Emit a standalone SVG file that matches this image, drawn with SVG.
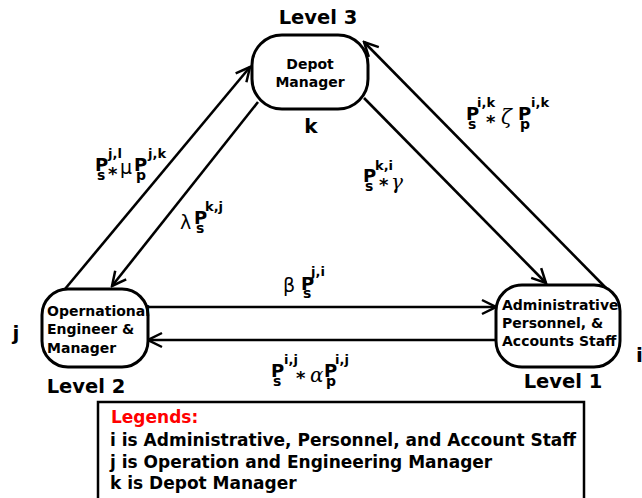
<svg xmlns="http://www.w3.org/2000/svg" width="642" height="498" viewBox="0 0 642 498">
<defs>
<marker id="arr" markerUnits="userSpaceOnUse" markerWidth="18" markerHeight="18" viewBox="-2 -2 18 18" refX="14" refY="7" orient="auto">
<path d="M0,0 L14,7 L0,14" fill="none" stroke="#000" stroke-width="2.5"/>
</marker>
</defs>
<style>
text{font-family:"DejaVu Sans","Liberation Sans",sans-serif;font-weight:bold;fill:#000}
.node{fill:#fff;stroke:#000;stroke-width:3}
.edge{stroke:#000;stroke-width:2.6;fill:none;marker-end:url(#arr)}
.lvl{font-size:19.5px}
.nt{font-size:14px}
.P{font-size:18px}
.sb{font-size:14px}
.sp{font-size:13px}
.g{font-family:"DejaVu Sans",sans-serif;font-weight:normal;font-size:19px}
.gs{font-family:"DejaVu Serif",serif;font-style:italic;font-weight:normal;font-size:20px}
.leg{font-size:17px}
</style>
<rect width="642" height="498" fill="#fff"/>
<g id="connectors">
<line class="edge" x1="65" y1="289" x2="250" y2="67"/>
<line class="edge" x1="258" y1="102" x2="112" y2="286"/>
<line class="edge" x1="606" y1="288" x2="364" y2="42"/>
<line class="edge" x1="364" y1="98" x2="546" y2="283"/>
<line class="edge" x1="148" y1="307" x2="496" y2="307"/>
<line class="edge" x1="496" y1="340" x2="148" y2="340"/>
</g>
<g id="depot">
<rect class="node" x="252" y="35" width="116" height="74" rx="30"/>
<text class="nt" x="310" y="69" text-anchor="middle">Depot</text>
<text class="nt" x="310" y="87" text-anchor="middle">Manager</text>
<text class="lvl" x="318" y="24" text-anchor="middle">Level 3</text>
<text x="311" y="133" font-size="20" text-anchor="middle">k</text>
</g>
<g id="operational">
<rect class="node" x="42" y="289" width="106" height="78" rx="26"/>
<text class="nt" x="47" y="316">Opernational</text>
<text class="nt" x="47" y="334">Engineer &amp;</text>
<text class="nt" x="47" y="353">Manager</text>
<text class="lvl" x="86" y="393" text-anchor="middle">Level 2</text>
<text x="16" y="340" font-size="20" text-anchor="middle">j</text>
</g>
<g id="admin">
<rect class="node" x="496" y="285" width="124" height="82" rx="26"/>
<text class="nt" x="502" y="310">Administrative</text>
<text class="nt" x="502" y="328">Personnel, &amp;</text>
<text class="nt" x="502" y="346">Accounts Staff</text>
<text class="lvl" x="563" y="388" text-anchor="middle">Level 1</text>
<text x="636" y="362" font-size="20">i</text>
</g>
<g id="labels">
<text class="P" x="95" y="171">P</text><text class="sb" x="97" y="180">s</text><text class="sp" x="108" y="158">j,l</text>
<text class="P" x="108" y="180">*</text><text class="g" x="120" y="174">μ</text>
<text class="P" x="134" y="171">P</text><text class="sb" x="136" y="180">p</text><text class="sp" x="148" y="158">j,k</text>

<text class="P" x="466" y="120">P</text><text class="sb" x="468" y="129">s</text><text class="sp" x="477" y="107">i,k</text>
<text class="P" x="486" y="128">*</text><text class="gs" x="501" y="124">ζ</text>
<text class="P" x="518" y="120">P</text><text class="sb" x="520" y="129">p</text><text class="sp" x="531" y="107">i,k</text>

<text class="g" x="180" y="229">λ</text><text class="P" x="194" y="224">P</text><text class="sb" x="196" y="233">s</text><text class="sp" x="205" y="211">k,j</text>

<text class="P" x="363" y="182">P</text><text class="sb" x="365" y="191">s</text><text class="sp" x="375" y="170">k,i</text>
<text class="P" x="379" y="191">*</text><text class="gs" x="391" y="189">γ</text>

<text class="g" x="283" y="292">β</text><text class="P" x="301" y="290">P</text><text class="sb" x="303" y="298">s</text><text class="sp" x="311" y="276">j,i</text>

<text class="P" x="271" y="377">P</text><text class="sb" x="273" y="386">s</text><text class="sp" x="284" y="364">i,j</text>
<text class="P" x="296" y="384">*</text><text class="gs" x="310" y="382">α</text>
<text class="P" x="324" y="377">P</text><text class="sb" x="326" y="386">p</text><text class="sp" x="335" y="364">i,j</text>
</g>
<g id="legend">
<rect x="98" y="402" width="486" height="110" fill="#fff" stroke="#000" stroke-width="2.5"/>
<text class="leg" x="111" y="423" style="fill:#f00">Legends:</text>
<text class="leg" x="110" y="446">i is Administrative, Personnel, and Account Staff</text>
<text class="leg" x="110" y="468">j is Operation and Engineering Manager</text>
<text class="leg" x="110" y="489">k is Depot Manager</text>
</g>
</svg>
